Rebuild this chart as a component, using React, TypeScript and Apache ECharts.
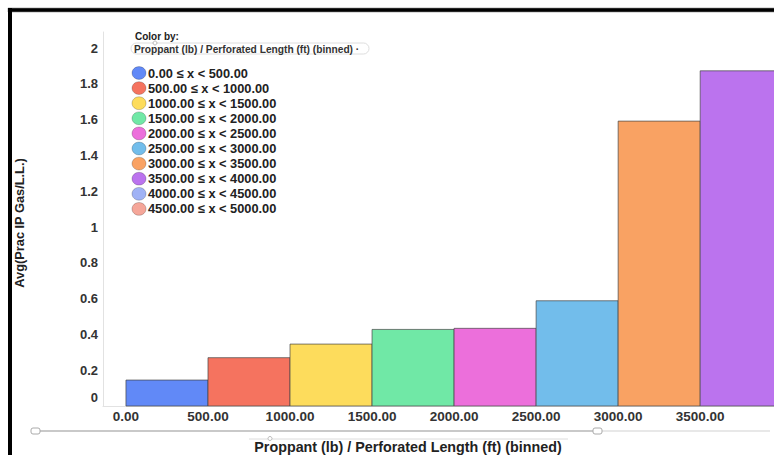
import React, { useEffect, useRef } from "react";
import * as echarts from "echarts";

// Bin edges of Proppant (lb) / Perforated Length (ft)
const binLower = [0, 500, 1000, 1500, 2000, 2500, 3000, 3500];
const binUpper = [500, 1000, 1500, 2000, 2500, 3000, 3500, 4000];
// Avg(Prac IP Gas/L.L.) per bin
const avgValues = [0.145, 0.27, 0.346, 0.428, 0.434, 0.588, 1.592, 1.873];

const xTicks = [0, 500, 1000, 1500, 2000, 2500, 3000, 3500];
const yTicks = [0, 0.2, 0.4, 0.6, 0.8, 1, 1.2, 1.4, 1.6, 1.8, 2];

const legendLabels = [
  "0.00 ≤ x < 500.00",
  "500.00 ≤ x < 1000.00",
  "1000.00 ≤ x < 1500.00",
  "1500.00 ≤ x < 2000.00",
  "2000.00 ≤ x < 2500.00",
  "2500.00 ≤ x < 3000.00",
  "3000.00 ≤ x < 3500.00",
  "3500.00 ≤ x < 4000.00",
  "4000.00 ≤ x < 4500.00",
  "4500.00 ≤ x < 5000.00",
];

const binColors = [
  "#6189f7",
  "#f5735f",
  "#fddc5c",
  "#70e8a6",
  "#ec6fdb",
  "#72bdeb",
  "#f9a263",
  "#bb73ee",
  "#a0b2f5",
  "#f5a699",
];

const FONT = "'Liberation Sans', Arial, sans-serif";

export default function App() {
  const ref = useRef<HTMLDivElement>(null);

  useEffect(() => {
    if (!ref.current) return;
    const chart = echarts.init(ref.current, null, { renderer: "svg" });

    const data = binLower.map((lo, i) => [lo, binUpper[i], avgValues[i], i]);

    const legendItems: any[] = [];
    legendLabels.forEach((label, i) => {
      const cy = 73 + i * 15.1;
      legendItems.push({
        type: "ellipse",
        shape: { cx: 139, cy, rx: 7, ry: 6.4 },
        style: { fill: binColors[i], stroke: "rgba(0,0,0,0.25)", lineWidth: 0.8 },
      });
      legendItems.push({
        type: "text",
        x: 148,
        y: cy,
        style: {
          text: label,
          font: `bold 12.8px ${FONT}`,
          fill: "#222",
          textVerticalAlign: "middle",
        },
      });
    });

    chart.setOption({
      animation: false,
      backgroundColor: "#fff",
      grid: { left: 103, right: 0, top: 32, bottom: 49 },
      xAxis: {
        type: "value",
        min: -140,
        max: 3950,
        axisLine: { show: true, lineStyle: { color: "#e2e2e2", width: 1 } },
        axisTick: { show: false },
        splitLine: { show: false },
        axisLabel: {
          customValues: xTicks,
          formatter: (v: number) => v.toFixed(2),
          margin: 3,
          fontFamily: FONT,
          fontWeight: "bold",
          fontSize: 13.5,
          color: "#333",
        },
      },
      yAxis: {
        type: "value",
        min: 0,
        max: 2.09,
        axisLine: { show: true, onZero: false, lineStyle: { color: "#e2e2e2", width: 1 } },
        axisTick: { show: false },
        splitLine: { show: false },
        axisLabel: {
          customValues: yTicks,
          formatter: (v: number) => (v === 0 ? "{z|0}" : String(Math.round(v * 10) / 10)),
          margin: 5,
          fontFamily: FONT,
          fontWeight: "bold",
          fontSize: 13,
          color: "#333",
          rich: {
            z: {
              fontFamily: FONT,
              fontWeight: "bold",
              fontSize: 13,
              color: "#333",
              padding: [0, 0, 17, 0],
            },
          },
        },
      },
      series: [
        {
          type: "custom",
          data,
          encode: { x: [0, 1], y: 2 },
          renderItem: (_params: any, api: any) => {
            const topLeft = api.coord([api.value(0), api.value(2)]);
            const bottomRight = api.coord([api.value(1), 0]);
            return {
              type: "rect",
              shape: {
                x: topLeft[0],
                y: topLeft[1],
                width: bottomRight[0] - topLeft[0],
                height: bottomRight[1] - topLeft[1],
              },
              style: {
                fill: binColors[api.value(3)],
                stroke: "rgba(70,70,70,0.7)",
                lineWidth: 1,
              },
            };
          },
        },
      ],
      graphic: [
        // frame
        { type: "rect", shape: { x: 8, y: 8, width: 800, height: 4 }, style: { fill: "#000", stroke: "#888", lineWidth: 0.6 } },
        { type: "rect", shape: { x: 8, y: 8, width: 4, height: 460 }, style: { fill: "#000" } },
        // y-axis title
        {
          type: "text",
          x: 19,
          y: 223,
          rotation: Math.PI / 2,
          style: {
            text: "Avg(Prac IP Gas/L.L.)",
            font: `bold 12.8px ${FONT}`,
            fill: "#222",
            textAlign: "center",
            textVerticalAlign: "middle",
          },
        },
        // "Color by" header
        {
          type: "text",
          x: 135,
          y: 36,
          style: { text: "Color by:", font: `bold 10px ${FONT}`, fill: "#222", textVerticalAlign: "middle" },
        },
        {
          type: "rect",
          shape: { x: 131, y: 43, width: 238, height: 11, r: 5.5 },
          style: { fill: "#fff", stroke: "#dedede", lineWidth: 1 },
        },
        { type: "circle", shape: { cx: 155, cy: 43, r: 2 }, style: { fill: "#fff", stroke: "#aaa", lineWidth: 0.8 } },
        {
          type: "text",
          x: 134,
          y: 49,
          style: {
            text: "Proppant (lb) / Perforated Length (ft) (binned) ·",
            font: `bold 10.2px ${FONT}`,
            fill: "#333",
            textVerticalAlign: "middle",
          },
        },
        ...legendItems,
        // range slider
        { type: "line", shape: { x1: 36, y1: 431, x2: 597, y2: 431 }, style: { stroke: "#c9c9c9", lineWidth: 2 } },
        { type: "line", shape: { x1: 597, y1: 431, x2: 770, y2: 431 }, style: { stroke: "#e8e8e8", lineWidth: 2 } },
        { type: "rect", shape: { x: 31, y: 428, width: 9, height: 6, r: 2 }, style: { fill: "#fff", stroke: "#aaa", lineWidth: 1 } },
        { type: "rect", shape: { x: 593, y: 428, width: 9, height: 6, r: 2 }, style: { fill: "#fff", stroke: "#aaa", lineWidth: 1 } },
        // x-axis title selector
        { type: "line", shape: { x1: 249, y1: 439, x2: 568, y2: 439 }, style: { stroke: "#dcdcdc", lineWidth: 1 } },
        { type: "circle", shape: { cx: 270, cy: 438.5, r: 2 }, style: { fill: "#fff", stroke: "#aaa", lineWidth: 0.8 } },
        {
          type: "text",
          x: 408,
          y: 447,
          style: {
            text: "Proppant (lb) / Perforated Length (ft) (binned)",
            font: `bold 14.3px ${FONT}`,
            fill: "#222",
            textAlign: "center",
            textVerticalAlign: "middle",
          },
        },
      ],
    });

    return () => chart.dispose();
  }, []);

  return (
    <div
      ref={ref}
      style={{ position: "absolute", left: 0, top: 0, width: 774, height: 455 }}
    />
  );
}
